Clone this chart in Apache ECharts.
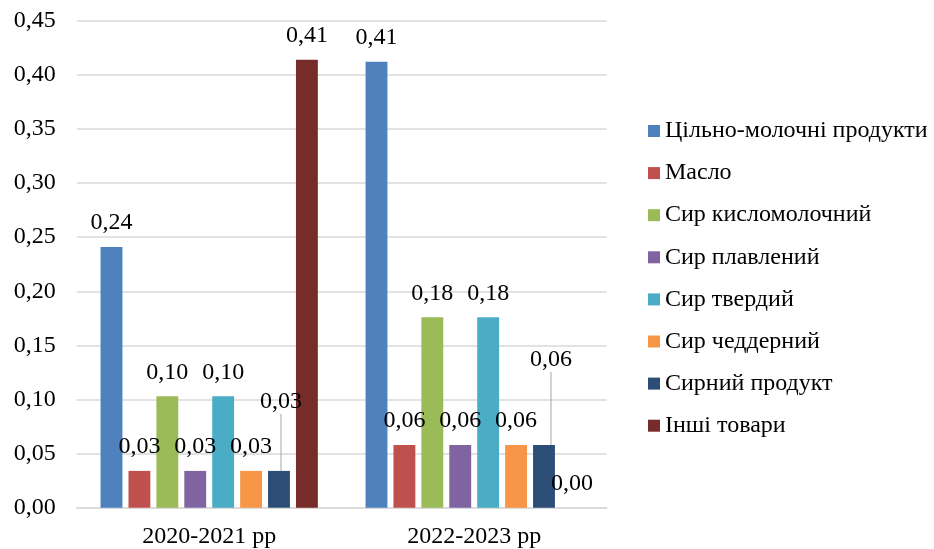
<!DOCTYPE html>
<html>
<head>
<meta charset="utf-8">
<script src="https://cdn.jsdelivr.net/npm/echarts@6/dist/echarts.min.js"></script>
<style>
  html, body { margin: 0; padding: 0; background: #fff; }
  #chart { width: 934px; height: 549px; }
</style>
</head>
<body>
<div id="chart"></div>
<script>
// Periods on the category axis
const categories = ['2020-2021 рр', '2022-2023 рр'];

// Product groups (one bar series each)
const seriesNames = [
  'Цільно-молочні продукти',
  'Масло',
  'Сир кисломолочний',
  'Сир плавлений',
  'Сир твердий',
  'Сир чеддерний',
  'Сирний продукт',
  'Інші товари'
];

// Values per product group, one entry per period
const wholeMilk    = [0.241, 0.412];
const butter       = [0.034, 0.058];
const cottageChees = [0.103, 0.176];
const processed    = [0.034, 0.058];
const hardCheese   = [0.103, 0.176];
const cheddar      = [0.034, 0.058];
const cheeseProd   = [0.034, 0.058];
const otherGoods   = [0.414, 0.000];

// Value-axis ticks
const yMin = 0;
const yMax = 0.45;
const yStep = 0.05;

const seriesValues = [wholeMilk, butter, cottageChees, processed, hardCheese, cheddar, cheeseProd, otherGoods];
const colors = ['#4F81BD', '#C0504D', '#9BBB59', '#8064A2', '#4BACC6', '#F79646', '#2C4D75', '#772C2A'];

const FONT = '"Liberation Serif", "Times New Roman", serif';
const FONT_SIZE = 24;
const fmt = v => v.toFixed(2).replace('.', ',');

// Labels of the «Сирний продукт» bars are lifted above their neighbours with a leader line
const liftedLabels = { 0: { dx: 2, dy: -45 }, 1: { dx: 7, dy: -61 } };

const series = seriesNames.map((name, i) => {
  const s = {
    name: name,
    type: 'bar',
    data: seriesValues[i],
    itemStyle: { color: colors[i] },
    barGap: '27.6%',
    barCategoryGap: '18%',
    label: {
      show: true,
      position: 'top',
      distance: 12,
      color: '#000',
      fontFamily: FONT,
      fontSize: FONT_SIZE,
      formatter: p => fmt(p.value)
    }
  };
  if (name === 'Сирний продукт') {
    s.labelLayout = p => liftedLabels[p.dataIndex] || {};
    s.labelLine = { show: true, lineStyle: { color: '#a6a6a6', width: 1 } };
  }
  return s;
});

const chart = echarts.init(document.getElementById('chart'), null, { renderer: 'canvas' });
chart.setOption({
  animation: false,
  backgroundColor: '#ffffff',
  grid: { left: 76.7, right: 327.3, top: 20.7, bottom: 41.3, containLabel: false },
  legend: {
    orient: 'vertical',
    left: 648,
    top: 119,
    padding: 0,
    icon: 'rect',
    itemWidth: 12,
    itemHeight: 12,
    itemGap: 18.1,
    data: seriesNames,
    textStyle: { color: '#000', fontFamily: FONT, fontSize: FONT_SIZE, lineHeight: 24, padding: [0, 0, 0, 0] }
  },
  xAxis: {
    type: 'category',
    data: categories,
    axisLine: { show: true, lineStyle: { color: '#d9d9d9', width: 1.5 } },
    axisTick: { show: false },
    axisLabel: { color: '#000', fontFamily: FONT, fontSize: FONT_SIZE, margin: 17 }
  },
  yAxis: {
    type: 'value',
    min: yMin,
    max: yMax,
    interval: yStep,
    axisLine: { show: false },
    axisTick: { show: false },
    splitLine: { show: true, lineStyle: { color: '#d9d9d9', width: 1.5 } },
    axisLabel: { color: '#000', fontFamily: FONT, fontSize: FONT_SIZE, margin: 21, formatter: v => fmt(v) }
  },
  series: series
});
</script>
</body>
</html>
